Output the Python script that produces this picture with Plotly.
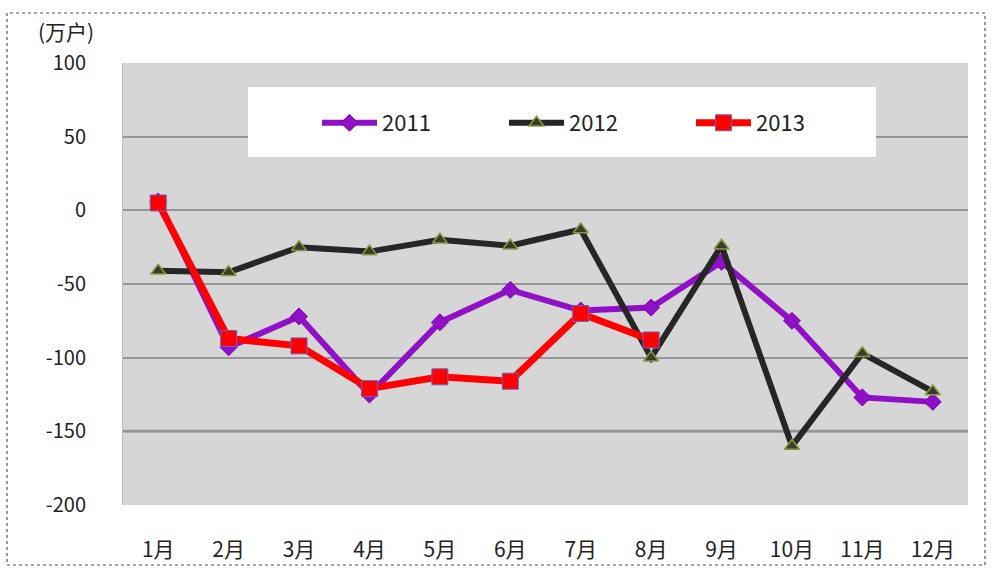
import plotly.graph_objects as go

months = ["1月", "2月", "3月", "4月", "5月", "6月", "7月", "8月", "9月", "10月", "11月", "12月"]
s2011 = [6, -93, -72, -125, -76, -54, -68, -66, -35, -75, -127, -130]
s2012 = [-41, -42, -25, -28, -20, -24, -13, -100, -24, -160, -97, -123]
s2013 = [5, -87, -92, -121, -113, -116, -70, -88]
y_ticks = [100, 50, 0, -50, -100, -150, -200]

FONT = "Noto Sans CJK SC, sans-serif"

fig = go.Figure()
fig.add_trace(go.Scatter(
    x=months, y=s2011, name="2011", mode="lines+markers",
    line=dict(color="#9010C8", width=6),
    marker=dict(symbol="diamond", size=13, color="#9010C8", line=dict(color="#7a00b0", width=1)),
))
fig.add_trace(go.Scatter(
    x=months, y=s2012, name="2012", mode="lines+markers",
    line=dict(color="#262626", width=6),
    marker=dict(symbol="triangle-up", size=13, color="#3a3a30", line=dict(color="#8a9a3a", width=1.5)),
))
fig.add_trace(go.Scatter(
    x=months[:len(s2013)], y=s2013, name="2013", mode="lines+markers",
    line=dict(color="#FF0000", width=7),
    marker=dict(symbol="square", size=16, color="#FF0000", line=dict(color="#7060c0", width=1)),
))

L, R, T, B = 123, 968, 63, 505
W, H = 993, 574
pw, ph = R - L, B - T
def px(x):
    return (x - L) / pw
def py(y):
    return (B - y) / ph

shapes = [
    # outer frame
    dict(type="rect", xref="paper", yref="paper", x0=px(7), x1=px(985), y0=py(565), y1=py(13),
         line=dict(color="#555555", width=1.2, dash="dot"), layer="below"),
    # legend white box
    dict(type="rect", xref="paper", yref="paper", x0=px(248), x1=px(876), y0=py(157), y1=py(87),
         line=dict(width=0), fillcolor="white", layer="above"),
    # thicker -150 line
    dict(type="line", xref="paper", yref="y", x0=0, x1=1, y0=-150, y1=-150,
         line=dict(color="#a0a0a0", width=3), layer="below"),
]

fig.update_layout(
    width=W, height=H,
    margin=dict(l=L, r=W - R, t=T, b=H - B),
    paper_bgcolor="white",
    plot_bgcolor="#d6d6d6",
    font=dict(family=FONT, size=19, color="#222222"),
    showlegend=True,
    legend=dict(
        orientation="h", x=px(317), y=py(123), xanchor="left", yanchor="middle",
        bgcolor="rgba(0,0,0,0)", font=dict(size=22, family=FONT),
        entrywidth=117, entrywidthmode="pixels", itemwidth=55,
        traceorder="normal",
    ),
    shapes=shapes,
    annotations=[dict(text="(万户)", xref="paper", yref="paper", x=px(36), y=py(31),
                      xanchor="left", yanchor="middle", showarrow=False,
                      font=dict(size=21, family=FONT))],
    xaxis=dict(
        type="category", range=[-0.5, 11.5], showgrid=False, zeroline=False,
        showline=False, ticks="", ticklabelstandoff=30,
        tickfont=dict(size=21, family=FONT),
    ),
    yaxis=dict(
        range=[-200, 100], tickvals=y_ticks, ticktext=[str(v) for v in y_ticks],
        showgrid=True, gridcolor="#959595", gridwidth=1.5, zeroline=False,
        showline=True, linecolor="#bdbdbd", linewidth=1, ticks="", ticklabelstandoff=32,
        tickfont=dict(size=20, family=FONT),
    ),
)

fig.write_html("out.html", post_script="document.body.style.margin='0';",
               config={"displayModeBar": False})
